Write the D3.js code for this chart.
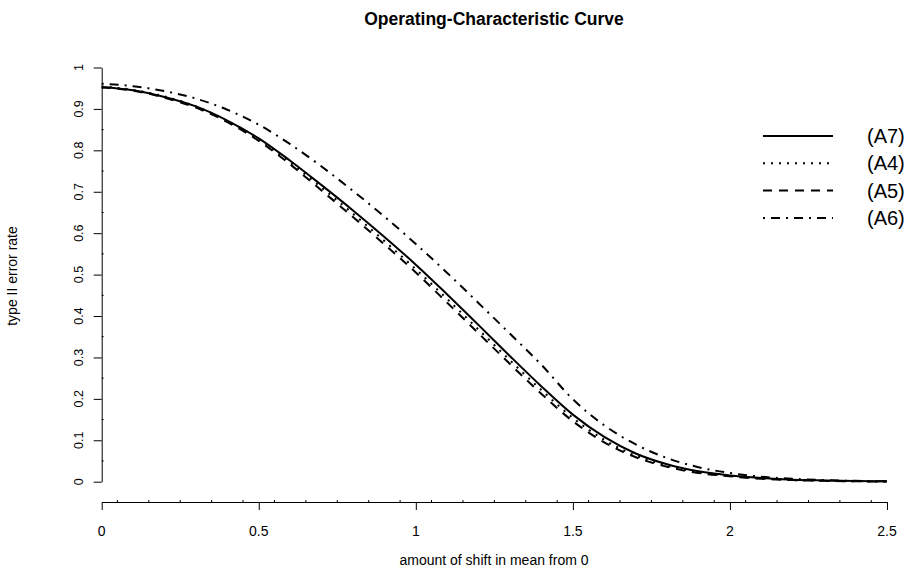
<!DOCTYPE html>
<html>
<head>
<meta charset="utf-8">
<script src="https://cdn.jsdelivr.net/npm/d3@7"></script>
<style>
body { margin: 0; background: #fff; }
text { font-family: "Liberation Sans", Arial, sans-serif; fill: #000; }
</style>
</head>
<body>
<script>
var W = 907, H = 569;

// shift in mean (x) and type II error rate per design
var shift = [0, 0.1, 0.2, 0.3, 0.4, 0.5, 0.6, 0.7, 0.8, 0.9, 1.0, 1.1, 1.2,
             1.3, 1.4, 1.5, 1.6, 1.7, 1.8, 1.9, 2.0, 2.1, 2.2, 2.3, 2.4, 2.5];
var a7 = [0.953, 0.945, 0.929, 0.906, 0.872, 0.829, 0.775, 0.716, 0.655, 0.591, 0.524, 0.452, 0.378,
          0.303, 0.230, 0.162, 0.108, 0.068, 0.042, 0.025, 0.015, 0.009, 0.005, 0.003, 0.0015, 0.001];
var a4 = [0.954, 0.946, 0.930, 0.906, 0.871, 0.827, 0.771, 0.710, 0.647, 0.581, 0.513, 0.441, 0.367,
          0.293, 0.221, 0.154, 0.101, 0.063, 0.039, 0.023, 0.014, 0.008, 0.004, 0.002, 0.001, 0.0005];
var a5 = [0.952, 0.944, 0.927, 0.903, 0.868, 0.823, 0.766, 0.703, 0.639, 0.573, 0.505, 0.432, 0.358,
          0.284, 0.212, 0.146, 0.095, 0.059, 0.036, 0.021, 0.013, 0.007, 0.004, 0.002, 0.001, 0.0005];
var a6 = [0.961, 0.955, 0.943, 0.925, 0.898, 0.862, 0.815, 0.761, 0.702, 0.640, 0.574, 0.504, 0.431,
          0.357, 0.282, 0.199, 0.136, 0.090, 0.057, 0.035, 0.021, 0.012, 0.007, 0.004, 0.002, 0.001];

var seriesNames = ["(A7)", "(A4)", "(A5)", "(A6)"];
var seriesVals = [a7, a4, a5, a6];
var dashes = ["none", "2,6", "9,7", "2,6,9,6"];

var xTicks = [0, 0.5, 1, 1.5, 2, 2.5];
var yTicks = [0, 0.1, 0.2, 0.3, 0.4, 0.5, 0.6, 0.7, 0.8, 0.9, 1];

var svg = d3.select("body").append("svg")
    .attr("width", W)
    .attr("height", H);

var x = d3.scaleLinear().domain([0, 2.5]).range([101.7, 887]);
var y = d3.scaleLinear().domain([0, 1]).range([481.7, 67.5]);
var xAxisY = 502;

// title
svg.append("text")
    .attr("x", 494).attr("y", 25)
    .attr("text-anchor", "middle")
    .attr("font-size", 17.5)
    .attr("font-weight", "bold")
    .text("Operating-Characteristic Curve");

// y axis
var gy = svg.append("g").attr("transform", "translate(" + x(0) + ",0)");
gy.call(d3.axisLeft(y).tickValues(yTicks).tickSize(8).tickSizeOuter(0).tickFormat(""));
gy.selectAll("path, line").attr("stroke", "#000").attr("stroke-width", 1);
gy.selectAll(".minor")
    .data(d3.range(0.05, 1, 0.1))
    .enter().append("line")
    .attr("x1", 0).attr("x2", 2)
    .attr("y1", function(d) { return y(d); })
    .attr("y2", function(d) { return y(d); })
    .attr("stroke", "#000");

svg.selectAll(".ylab")
    .data(yTicks)
    .enter().append("text")
    .attr("transform", function(d) { return "translate(83," + y(d) + ") rotate(-90)"; })
    .attr("text-anchor", "middle")
    .attr("font-size", 12.5)
    .text(function(d) { return d; });

// x axis
var gx = svg.append("g").attr("transform", "translate(0," + xAxisY + ")");
gx.call(d3.axisBottom(x).tickValues(xTicks).tickSize(8).tickSizeOuter(0).tickFormat(""));
gx.selectAll("path, line").attr("stroke", "#000").attr("stroke-width", 1);
gx.selectAll(".minor")
    .data(d3.range(0.05, 2.5, 0.1))
    .enter().append("line")
    .attr("y1", 0).attr("y2", -2)
    .attr("x1", function(d) { return x(d); })
    .attr("x2", function(d) { return x(d); })
    .attr("stroke", "#000");

svg.selectAll(".xlab")
    .data(xTicks)
    .enter().append("text")
    .attr("x", function(d) { return x(d); })
    .attr("y", 536)
    .attr("text-anchor", "middle")
    .attr("font-size", 14)
    .text(function(d) { return d; });

// axis titles
svg.append("text")
    .attr("x", 494).attr("y", 565)
    .attr("text-anchor", "middle")
    .attr("font-size", 14)
    .text("amount of shift in mean from 0");

svg.append("text")
    .attr("transform", "translate(17,276) rotate(-90)")
    .attr("text-anchor", "middle")
    .attr("font-size", 14)
    .text("type II error rate");

// curves
var line = d3.line()
    .x(function(d, i) { return x(shift[i]); })
    .y(function(d) { return y(d); })
    .curve(d3.curveMonotoneX);

svg.selectAll(".curve")
    .data(seriesVals)
    .enter().append("path")
    .attr("d", function(d) { return line(d); })
    .attr("fill", "none")
    .attr("stroke", "#000")
    .attr("stroke-width", 2)
    .attr("stroke-dasharray", function(d, i) { return dashes[i]; });

// legend
var leg = svg.selectAll(".leg")
    .data(seriesNames)
    .enter().append("g")
    .attr("transform", function(d, i) { return "translate(0," + (136 + i * 27.3) + ")"; });

leg.append("line")
    .attr("x1", 763).attr("x2", 833)
    .attr("y1", 0).attr("y2", 0)
    .attr("stroke", "#000")
    .attr("stroke-width", 2)
    .attr("stroke-dasharray", function(d, i) { return dashes[i]; });

leg.append("text")
    .attr("x", 867).attr("y", 7)
    .attr("font-size", 20)
    .text(function(d) { return d; });
</script>
</body>
</html>
